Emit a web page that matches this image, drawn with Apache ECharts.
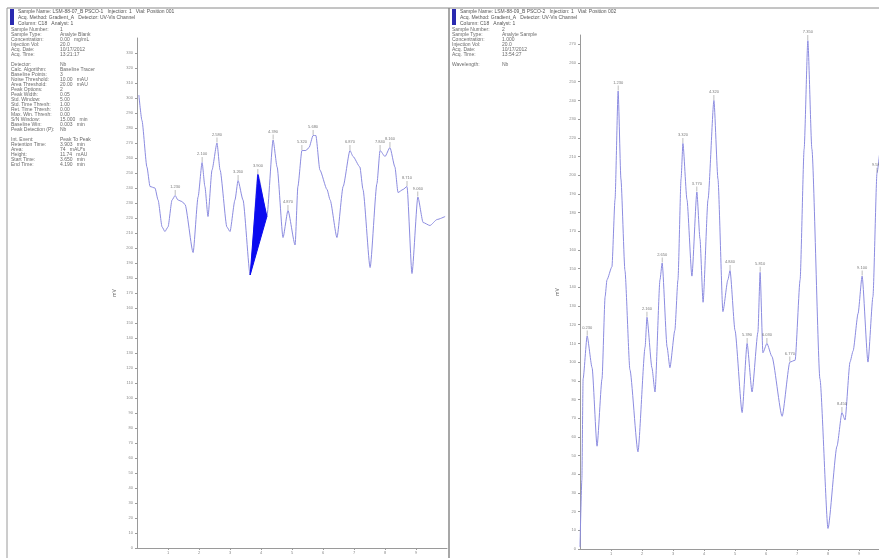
<!DOCTYPE html>
<html>
<head>
<meta charset="utf-8">
<script src="https://cdn.jsdelivr.net/npm/echarts@6/dist/echarts.min.js"></script>
<style>
  html, body { margin: 0; padding: 0; background: #fff; }
  #chart { width: 879px; height: 558px; }
</style>
</head>
<body>
<div id="chart"></div>
<script>
// left chromatogram: [time (min), signal (mV)]
const leftTrace = [
  [0.06, 302], [0.16, 285], [0.32, 254], [0.42, 241], [0.58, 240], [0.68, 232], [0.81, 214],
  [0.90, 211], [1.00, 214], [1.13, 232], [1.23, 235], [1.32, 232], [1.45, 231], [1.55, 229],
  [1.81, 197], [1.97, 234], [2.10, 257], [2.19, 241], [2.29, 221], [2.42, 252], [2.58, 270],
  [2.68, 252], [2.90, 214], [3.00, 211], [3.16, 232], [3.26, 245], [3.42, 232], [3.65, 182],
  [3.90, 249], [4.19, 221], [4.39, 272], [4.52, 254], [4.71, 207], [4.87, 225], [5.10, 202],
  [5.19, 241], [5.32, 265], [5.45, 265], [5.55, 267], [5.68, 275], [5.77, 275], [5.90, 252],
  [6.13, 239], [6.23, 232], [6.45, 207], [6.65, 241], [6.87, 265], [6.97, 261], [7.19, 254],
  [7.29, 239], [7.52, 187], [7.74, 243], [7.84, 265], [8.00, 261], [8.16, 267], [8.32, 254],
  [8.42, 237], [8.58, 239], [8.71, 241], [8.87, 183], [9.06, 234], [9.23, 217], [9.45, 215],
  [9.68, 219], [9.94, 221]
];
const leftPeaks = [
  [1.23, 235], [2.10, 257], [2.58, 270], [3.26, 245], [3.90, 249], [4.39, 272], [4.87, 225],
  [5.32, 265], [5.68, 275], [6.87, 265], [7.84, 265], [8.16, 267], [8.71, 241], [9.06, 234]
];
// integrated peak (filled)
const leftPeakArea = [[3.65, 182], [3.90, 249], [4.19, 221]];

// right chromatogram
const rightTrace = [
  [0.00, 1], [0.06, 37], [0.10, 91], [0.23, 114], [0.39, 97], [0.55, 55], [0.71, 91],
  [0.81, 135], [0.87, 144], [1.03, 151], [1.13, 187], [1.23, 245], [1.32, 198], [1.45, 149],
  [1.61, 96], [1.87, 52], [2.10, 108], [2.16, 124], [2.32, 97], [2.42, 84], [2.58, 144],
  [2.65, 153], [2.81, 108], [2.90, 97], [3.06, 117], [3.16, 144], [3.26, 198], [3.32, 217],
  [3.45, 187], [3.61, 146], [3.77, 191], [3.87, 166], [3.97, 132], [4.13, 187], [4.32, 240],
  [4.45, 198], [4.61, 127], [4.77, 144], [4.84, 149], [5.00, 117], [5.23, 73], [5.39, 110],
  [5.55, 84], [5.74, 116], [5.81, 148], [5.90, 105], [6.03, 110], [6.19, 103], [6.52, 71],
  [6.77, 100], [6.94, 101], [7.10, 144], [7.23, 214], [7.35, 272], [7.48, 214], [7.74, 91],
  [8.00, 11], [8.29, 55], [8.45, 73], [8.55, 69], [8.71, 100], [8.81, 106], [8.97, 126],
  [9.10, 146], [9.29, 100], [9.45, 135], [9.58, 201], [9.68, 214]
];
const rightPeaks = [
  [0.23, 114], [1.23, 245], [2.16, 124], [2.65, 153], [3.32, 217], [3.77, 191], [4.32, 240],
  [4.84, 149], [5.39, 110], [5.81, 148], [6.03, 110], [6.77, 100], [7.35, 272], [8.45, 73],
  [9.10, 146], [9.58, 201]
];

// report header text
const leftHeader = [
  'Sample Name: LSM-88-07_B PSCO-1   Injection: 1   Vial: Position 001',
  'Acq. Method: Gradient_A   Detector: UV-Vis Channel',
  'Column: C18   Analyst: 1'
];
const rightHeader = [
  'Sample Name: LSM-88-09_B PSCO-2   Injection: 1   Vial: Position 002',
  'Acq. Method: Gradient_A   Detector: UV-Vis Channel',
  'Column: C18   Analyst: 1'
];
const leftInfo = [
  ['Sample Number:', '1'], ['Sample Type:', 'Analyte Blank'], ['Concentration:', '0.00   mg/mL'],
  ['Injection Vol:', '20.0'], ['Acq. Date:', '10/17/2012'], ['Acq. Time:', '13:21:17'],
  null,
  ['Detector:', 'Nb'], ['Calc. Algorithm:', 'Baseline Tracer'], ['Baseline Points:', '3'],
  ['Noise Threshold:', '10.00   mAU'], ['Area Threshold:', '20.00   mAU'], ['Peak Options:', '2'],
  ['Peak Width:', '0.05'], ['Std. Window:', '5.00'], ['Std. Time Thresh:', '1.00'],
  ['Ret. Time Thresh:', '0.00'], ['Max. Win. Thresh:', '0.00'], ['S/N Window:', '15.000   min'],
  ['Baseline Win:', '0.003   min'], ['Peak Detection (P):', 'Nb'],
  null,
  ['Int. Event:', 'Peak To Peak'], ['Retention Time:', '3.903   min'], ['Area:', '74   mAU*s'],
  ['Height:', '11.74   mAU'], ['Start Time:', '3.650   min'], ['End Time:', '4.190   min']
];
const rightInfo = [
  ['Sample Number:', '2'], ['Sample Type:', 'Analyte Sample'], ['Concentration:', '1.000'],
  ['Injection Vol:', '20.0'], ['Acq. Date:', '10/17/2012'], ['Acq. Time:', '13:54:27'],
  null,
  ['Wavelength:', 'Nb']
];

const traceColor = '#8c8ce0';
const textColor = '#6a6a6a';
const axisColor = '#9a9a9a';

function infoText(rows, x, y0, valueX) {
  const out = [];
  let y = y0;
  rows.forEach(r => {
    if (r === null) { y += 5; return; }
    out.push({ type: 'text', style: { text: r[0], x: x, y: y, fill: textColor, font: '5px sans-serif' } });
    out.push({ type: 'text', style: { text: r[1], x: valueX, y: y, fill: textColor, font: '5px sans-serif' } });
    y += 5;
  });
  return out;
}

function headerText(lines, x, y0) {
  return lines.map((t, i) => ({
    type: 'text',
    style: { text: t, x: x, y: y0 + i * 6, fill: '#555', font: '5px sans-serif' }
  }));
}

const graphics = [
  // frames
  { type: 'line', shape: { x1: 7, y1: 8, x2: 879, y2: 8 }, style: { stroke: '#8a8a8a', lineWidth: 1 } },
  { type: 'line', shape: { x1: 7, y1: 8, x2: 7, y2: 558 }, style: { stroke: '#9a9a9a', lineWidth: 1 } },
  { type: 'line', shape: { x1: 449, y1: 8, x2: 449, y2: 558 }, style: { stroke: '#8a8a8a', lineWidth: 1.5 } },
  // blue marker bars
  { type: 'rect', shape: { x: 10, y: 9, width: 4, height: 16 }, style: { fill: '#2a2ab0' } },
  { type: 'rect', shape: { x: 452, y: 9, width: 4, height: 16 }, style: { fill: '#2a2ab0' } },
  ...headerText(leftHeader, 18, 9),
  ...headerText(rightHeader, 460, 9),
  ...infoText(leftInfo, 11, 27, 60),
  ...infoText(rightInfo, 452, 27, 502)
];

function yAxisCfg(gridIndex, max) {
  return {
    type: 'value', gridIndex: gridIndex, min: 0, max: max, interval: 10,
    name: 'mV', nameLocation: 'middle', nameGap: 20, nameRotate: 90,
    nameTextStyle: { fontSize: 5, color: textColor },
    axisLine: { show: true, lineStyle: { color: axisColor, width: 1 } },
    axisTick: { show: true, length: 2, lineStyle: { color: axisColor } },
    axisLabel: { fontSize: 4, color: '#888', margin: 4, showMaxLabel: false },
    splitLine: { show: false }
  };
}

function xAxisCfg(gridIndex) {
  return {
    type: 'value', gridIndex: gridIndex, min: 0, max: 10, interval: 1,
    name: 'min', nameLocation: 'middle', nameGap: 8,
    nameTextStyle: { fontSize: 5, color: textColor },
    axisLine: { show: true, onZero: false, lineStyle: { color: axisColor, width: 1 } },
    axisTick: { show: true, length: 2, lineStyle: { color: axisColor } },
    axisLabel: { fontSize: 4, color: '#888', margin: 3, showMinLabel: false, showMaxLabel: false },
    splitLine: { show: false }
  };
}

function peakLabels(peaks, xi, yi) {
  return {
    type: 'scatter', xAxisIndex: xi, yAxisIndex: yi,
    data: peaks, symbol: 'rect', symbolSize: [0.6, 5], symbolOffset: [0, -3],
    itemStyle: { color: '#777' }, silent: true, z: 4,
    label: {
      show: true, position: 'top', distance: 1, fontSize: 4, color: '#555',
      formatter: p => p.value[0].toFixed(3)
    }
  };
}

const chart = echarts.init(document.getElementById('chart'), null, { renderer: 'canvas' });

chart.setOption({
  backgroundColor: '#fff',
  animation: false,
  grid: [
    { left: 137, top: 38, width: 310, height: 510, outerBoundsMode: 'none', containLabel: false },
    { left: 580, top: 35, width: 310, height: 514, outerBoundsMode: 'none', containLabel: false }
  ],
  xAxis: [xAxisCfg(0), xAxisCfg(1)],
  yAxis: [yAxisCfg(0, 340), yAxisCfg(1, 275)],
  graphic: graphics,
  series: [
    {
      type: 'line', xAxisIndex: 0, yAxisIndex: 0, data: leftTrace,
      showSymbol: false, smooth: 0.2, smoothMonotone: 'x',
      lineStyle: { color: traceColor, width: 1 }
    },
    {
      type: 'custom', xAxisIndex: 0, yAxisIndex: 0, data: [0], z: 5,
      renderItem: (params, api) => ({
        type: 'polygon',
        shape: { points: leftPeakArea.map(p => api.coord(p)) },
        style: { fill: '#0a0af0', stroke: '#0a0af0', lineWidth: 1 }
      })
    },
    peakLabels(leftPeaks, 0, 0),
    {
      type: 'line', xAxisIndex: 1, yAxisIndex: 1, data: rightTrace,
      showSymbol: false, smooth: 0.2, smoothMonotone: 'x',
      lineStyle: { color: traceColor, width: 1 }
    },
    peakLabels(rightPeaks, 1, 1)
  ]
});

window.addEventListener('resize', () => {
  chart.resize();
});
</script>
</body>
</html>
